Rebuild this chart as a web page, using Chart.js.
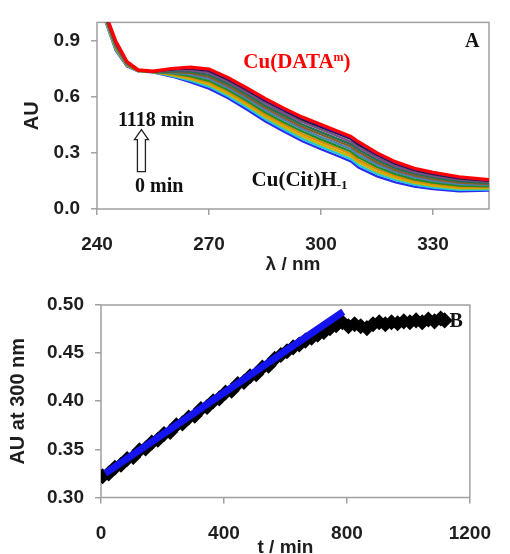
<!DOCTYPE html>
<html><head><meta charset="utf-8">
<script src="https://cdn.jsdelivr.net/npm/chart.js@4.4.1/dist/chart.umd.min.js"></script>
<style>
html,body{margin:0;padding:0;background:#fff;overflow:hidden;width:510px;height:554px}
canvas{position:absolute;left:0}
#cA{top:0}
#cB{top:280px}
</style></head><body>
<canvas id="cA" width="510" height="280"></canvas>
<canvas id="cB" width="510" height="290"></canvas>
<script>
// ---------- Panel A data: UV spectra (AU vs wavelength) ----------
const wavelengths = [242, 245, 248, 251, 255, 260, 265, 270, 275, 280, 285, 290, 295, 300, 305, 308, 310, 315, 320, 325, 330, 337, 345];
const spec1118 = [1.060, 0.900, 0.790, 0.745, 0.738, 0.752, 0.760, 0.750, 0.705, 0.650, 0.592, 0.540, 0.492, 0.452, 0.412, 0.388, 0.360, 0.300, 0.252, 0.218, 0.196, 0.172, 0.157];
const specS11 = [1.058, 0.898, 0.789, 0.745, 0.738, 0.750, 0.756, 0.745, 0.700, 0.644, 0.586, 0.534, 0.486, 0.445, 0.405, 0.381, 0.353, 0.294, 0.247, 0.213, 0.192, 0.168, 0.154];
const specS10 = [1.056, 0.895, 0.788, 0.744, 0.737, 0.748, 0.752, 0.740, 0.694, 0.639, 0.580, 0.528, 0.479, 0.439, 0.399, 0.375, 0.346, 0.288, 0.241, 0.208, 0.187, 0.164, 0.151];
const specS9  = [1.052, 0.890, 0.785, 0.744, 0.737, 0.744, 0.744, 0.729, 0.683, 0.627, 0.568, 0.515, 0.466, 0.426, 0.386, 0.361, 0.332, 0.275, 0.230, 0.198, 0.178, 0.157, 0.145];
const specS8  = [1.048, 0.885, 0.783, 0.743, 0.736, 0.739, 0.736, 0.719, 0.672, 0.616, 0.555, 0.503, 0.453, 0.412, 0.372, 0.348, 0.319, 0.263, 0.219, 0.189, 0.169, 0.149, 0.139];
const specS7  = [1.044, 0.880, 0.780, 0.742, 0.736, 0.735, 0.728, 0.708, 0.661, 0.604, 0.543, 0.490, 0.440, 0.399, 0.359, 0.335, 0.305, 0.250, 0.208, 0.179, 0.160, 0.141, 0.133];
const specS6  = [1.040, 0.875, 0.778, 0.742, 0.735, 0.731, 0.720, 0.698, 0.650, 0.593, 0.531, 0.478, 0.428, 0.386, 0.346, 0.322, 0.291, 0.238, 0.198, 0.169, 0.151, 0.134, 0.128];
const specS5  = [1.036, 0.870, 0.775, 0.741, 0.734, 0.727, 0.712, 0.687, 0.639, 0.581, 0.519, 0.465, 0.415, 0.373, 0.333, 0.308, 0.277, 0.225, 0.187, 0.159, 0.142, 0.126, 0.122];
const specS4  = [1.032, 0.865, 0.773, 0.740, 0.734, 0.723, 0.704, 0.677, 0.628, 0.570, 0.507, 0.453, 0.402, 0.360, 0.320, 0.295, 0.263, 0.213, 0.176, 0.149, 0.133, 0.118, 0.116];
const specS3  = [1.028, 0.860, 0.770, 0.739, 0.733, 0.718, 0.696, 0.666, 0.617, 0.558, 0.494, 0.440, 0.389, 0.346, 0.306, 0.282, 0.250, 0.200, 0.165, 0.140, 0.124, 0.110, 0.110];
const specS2  = [1.024, 0.855, 0.768, 0.739, 0.733, 0.714, 0.688, 0.656, 0.606, 0.547, 0.482, 0.428, 0.376, 0.333, 0.293, 0.268, 0.236, 0.188, 0.154, 0.130, 0.115, 0.103, 0.104];
const spec0   = [1.020, 0.850, 0.765, 0.738, 0.732, 0.710, 0.680, 0.645, 0.595, 0.535, 0.470, 0.415, 0.363, 0.320, 0.280, 0.255, 0.222, 0.175, 0.143, 0.120, 0.106, 0.095, 0.098];
const spectraA = [spec1118, specS11, specS10, specS9, specS8, specS7, specS6, specS5, specS4, specS3, specS2, spec0];
const xTicksA = [240, 270, 300, 330];
const yTicksA = [0.0, 0.3, 0.6, 0.9];

// ---------- Panel B data: AU at 300 nm vs time ----------
const timesB = [5, 25, 45, 65, 85, 105, 125, 145, 165, 185, 205, 225, 245, 265, 285, 305, 325, 345, 365, 385, 405, 425, 445, 465, 485, 505, 525, 545, 565, 585, 605, 625, 645, 665, 685, 705, 725, 745, 765, 785, 805, 825, 845, 865, 885, 905, 925, 945, 965, 985, 1005, 1025, 1045, 1065, 1085, 1105, 1118];
const au300 = [0.322, 0.325, 0.331, 0.334, 0.340, 0.342, 0.349, 0.351, 0.357, 0.360, 0.366, 0.368, 0.375, 0.377, 0.383, 0.385, 0.392, 0.394, 0.400, 0.403, 0.409, 0.411, 0.418, 0.420, 0.426, 0.428, 0.435, 0.437, 0.444, 0.448, 0.452, 0.456, 0.459, 0.463, 0.466, 0.469, 0.472, 0.476, 0.479, 0.482, 0.478, 0.480, 0.478, 0.476, 0.480, 0.482, 0.480, 0.482, 0.481, 0.483, 0.482, 0.484, 0.482, 0.485, 0.483, 0.486, 0.484];
const fitTimes = [14, 788];
const fitAU = [0.325, 0.493];
const xTicksB = [0, 400, 800, 1200];
const yTicksB = [0.30, 0.35, 0.40, 0.45, 0.50];

// ---------- styles ----------
const specColors = ['#ff0000', '#0000ff', '#202020', '#7a4a8a', '#1f6f4f', '#8b5a2b', '#4682b4', '#228b22', '#e08a00', '#c8b400', '#20c8d8', '#2a2af0'];
const SANS = '"Liberation Sans", Arial, sans-serif';
const SERIF = '"Liberation Serif", "Times New Roman", serif';
const tickFont = {family: SANS, size: 19, weight: 'bold'};
const titleFont = {family: SANS, size: 19, weight: 'bold'};
const INK = '#1e1e1e';
const AXIS = '#a0a0a0';

function fixTicks(vals) { return function (scale) { scale.ticks = vals.map(v => ({value: v})); }; }

const framePlugin = {
  id: 'frame',
  beforeDatasetsDraw(chart) {
    const {ctx, chartArea: a} = chart;
    ctx.save();
    ctx.strokeStyle = AXIS;
    ctx.lineWidth = 1.5;
    ctx.strokeRect(a.left, a.top, a.right - a.left, a.bottom - a.top);
    ctx.restore();
  }
};

const notesPlugin = {
  id: 'notes',
  afterDraw(chart, args, opts) {
    const ctx = chart.ctx;
    const xs = chart.scales.x, ys = chart.scales.y;
    ctx.save();
    (opts.items || []).forEach(it => {
      if (it.arrow) {
        const cx = xs.getPixelForValue(it.x);
        const yt = ys.getPixelForValue(it.yTop);
        const yb = ys.getPixelForValue(it.yBottom);
        const yh = yt + 10;
        ctx.beginPath();
        ctx.moveTo(cx - 4, yb); ctx.lineTo(cx - 4, yh); ctx.lineTo(cx - 7, yh);
        ctx.lineTo(cx, yt); ctx.lineTo(cx + 7, yh); ctx.lineTo(cx + 4, yh); ctx.lineTo(cx + 4, yb);
        ctx.closePath();
        ctx.fillStyle = '#fff'; ctx.fill();
        ctx.strokeStyle = '#222'; ctx.lineWidth = 1.3; ctx.stroke();
        return;
      }
      let px = xs.getPixelForValue(it.x);
      const py = ys.getPixelForValue(it.y);
      ctx.textBaseline = 'alphabetic';
      ctx.textAlign = 'left';
      ctx.fillStyle = it.color;
      it.parts.forEach(p => {
        ctx.font = p.font;
        ctx.fillText(p.t, px, py + (p.dy || 0));
        px += ctx.measureText(p.t).width + (p.gap || 0);
      });
    });
    ctx.restore();
  }
};

const big = 'bold 21px ' + SERIF;
const annotA = [
  {x: 338.6, y: 0.870, color: '#111', parts: [{t: 'A', font: 'bold 20px ' + SERIF}]},
  {x: 279.2, y: 0.755, color: '#ff0000', parts: [{t: 'Cu(DATA', font: big}, {t: 'm', font: 'bold 12px ' + SERIF, dy: -7}, {t: ')', font: big}]},
  {x: 245.6, y: 0.446, color: '#111', parts: [{t: '1118 min', font: 'bold 20px ' + SERIF}]},
  {x: 250.2, y: 0.089, color: '#111', parts: [{t: '0 min', font: 'bold 20px ' + SERIF}]},
  {x: 281.4, y: 0.123, color: '#111', parts: [{t: 'Cu(Cit)H', font: big}, {t: '-1', font: 'bold 13px ' + SERIF, dy: 3}]},
  {arrow: true, x: 251.9, yTop: 0.425, yBottom: 0.200}
];
const annotB = [
  {x: 1134, y: 0.4775, color: '#111', parts: [{t: 'B', font: 'bold 20px ' + SERIF}]}
];

function axisCommon(ticksVals, fmt, pad, fitFn) {
  return {
    type: 'linear',
    afterBuildTicks: fixTicks(ticksVals),
    afterFit: fitFn,
    grid: {drawOnChartArea: false, drawTicks: true, tickLength: 6, color: AXIS, lineWidth: 1.5},
    border: {display: false},
    ticks: {font: tickFont, color: INK, padding: pad, maxRotation: 0, autoSkip: false, callback: fmt}
  };
}

// ---------- Chart A ----------
const xA = axisCommon(xTicksA, v => String(v), 18, s => { s.height = 71; });
xA.min = 240; xA.max = 345;
xA.title = {display: true, text: 'λ / nm', font: titleFont, color: INK, padding: {top: 0, bottom: 4}};
const yA = axisCommon(yTicksA, v => v.toFixed(1), 11, s => { s.width = 97; });
yA.min = 0; yA.max = 1.0;
yA.title = {display: true, text: 'AU', font: {family: SANS, size: 20, weight: 'bold'}, color: INK, padding: {top: 20, bottom: 0}};

new Chart(document.getElementById('cA'), {
  type: 'line',
  data: {
    datasets: spectraA.map((s, i) => ({
      data: wavelengths.map((w, j) => ({x: w, y: s[j]})),
      borderColor: specColors[i],
      borderWidth: i === 0 ? 3.4 : 2.3,
      pointRadius: 0, fill: false, tension: 0
    }))
  },
  options: {
    responsive: false, animation: false, devicePixelRatio: 1,
    layout: {padding: {top: 14, right: 21, left: 0, bottom: 0}},
    plugins: {legend: {display: false}, tooltip: {enabled: false}, notes: {items: annotA}},
    scales: {x: xA, y: yA}
  },
  plugins: [framePlugin, notesPlugin]
});

// ---------- Chart B ----------
const xB = axisCommon(xTicksB, v => String(v), 19, s => { s.height = 72.5; });
xB.min = 0; xB.max = 1200;
xB.title = {display: true, text: 't / min', font: titleFont, color: INK, padding: {top: 0, bottom: 10.6}};
const yB = axisCommon(yTicksB, v => v.toFixed(2), 11, s => { s.width = 101; });
yB.min = 0.30; yB.max = 0.50;
yB.title = {display: true, text: 'AU at 300 nm', font: {family: SANS, size: 20, weight: 'bold'}, color: INK, padding: {top: 6, bottom: 0}};

new Chart(document.getElementById('cB'), {
  type: 'line',
  data: {
    datasets: [
      {
        data: fitTimes.map((t, j) => ({x: t, y: fitAU[j]})),
        borderColor: '#1414f0', borderWidth: 7, pointRadius: 0, fill: false, tension: 0
      },
      {
        data: timesB.map((t, j) => ({x: t, y: au300[j]})),
        borderColor: '#000', borderWidth: 4, pointStyle: 'rectRot', pointRadius: 5.2,
        pointBackgroundColor: '#000', pointBorderColor: '#000', fill: false, tension: 0
      }
    ]
  },
  options: {
    responsive: false, animation: false, devicePixelRatio: 1,
    layout: {padding: {top: 25, right: 25, left: 0, bottom: 0}},
    plugins: {legend: {display: false}, tooltip: {enabled: false}, notes: {items: annotB}},
    scales: {x: xB, y: yB}
  },
  plugins: [framePlugin, notesPlugin]
});
</script>
</body></html>
